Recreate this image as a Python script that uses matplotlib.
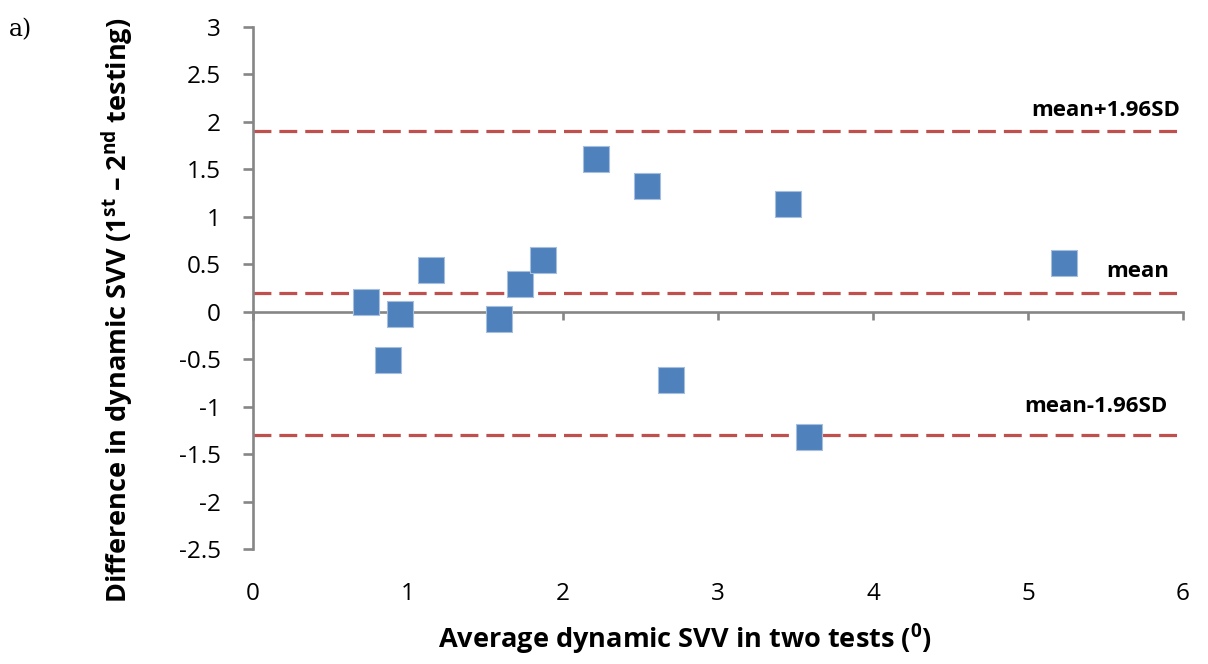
import matplotlib
matplotlib.use("Agg")
import matplotlib.pyplot as plt

# Bland-Altman data: mean of the two tests vs. difference (1st - 2nd)
avg_svv = [0.73, 0.87, 0.95, 1.15, 1.59, 1.72, 1.87, 2.21, 2.54, 2.70, 3.45, 3.59, 5.23]
diff_svv = [0.10, -0.51, -0.02, 0.44, -0.08, 0.29, 0.54, 1.61, 1.33, -0.72, 1.14, -1.32, 0.51]

# reference lines
line_values = [1.9, 0.2, -1.3]
line_labels = ["mean+1.96SD", "mean", "mean-1.96SD"]

x_ticks = [0, 1, 2, 3, 4, 5, 6]
y_ticks = [-2.5, -2, -1.5, -1, -0.5, 0, 0.5, 1, 1.5, 2, 2.5, 3]

plt.rcParams["font.family"] = ["Open Sans", "DejaVu Sans"]
plt.rcParams["mathtext.fontset"] = "custom"
plt.rcParams["mathtext.rm"] = "Open Sans:bold"
plt.rcParams["mathtext.bf"] = "Open Sans:bold"
plt.rcParams["mathtext.it"] = "Open Sans:bold"

axis_grey = "#868686"
blue = "#4F81BD"
red = "#C0504D"

fig = plt.figure(figsize=(12.08, 6.64), dpi=100)
ax = fig.add_axes([0.2094, 0.1732, 0.7699, 0.7861])

for v in line_values:
    ax.axhline(v, color=red, lw=2.3, ls=(0, (5.6, 2.5)), zorder=1)

ax.scatter(avg_svv, diff_svv, marker="s", s=330, color=blue,
           edgecolor="#A7BFDE", linewidth=0.8, zorder=3)

label_y_off = [0.22, 0.22, 0.30]
label_x = [5.98, 5.91, 5.90]
for v, txt, dy, lx in zip(line_values, line_labels, label_y_off, label_x):
    ax.text(lx, v + dy, txt, ha="right", va="center", fontsize=16,
            fontweight="bold")

ax.set_xlim(0, 6)
ax.set_ylim(-2.5, 3)

for side in ["top", "right"]:
    ax.spines[side].set_visible(False)
ax.spines["left"].set_color(axis_grey)
ax.spines["left"].set_linewidth(1.9)
ax.spines["bottom"].set_position(("data", 0))
ax.spines["bottom"].set_color(axis_grey)
ax.spines["bottom"].set_linewidth(1.9)

ax.set_yticks(y_ticks)
ax.set_yticklabels([f"{t:g}" for t in y_ticks])
ax.tick_params(axis="y", direction="out", length=7, width=1.9, color=axis_grey,
               labelsize=17.5, pad=16)
ax.set_xticks(x_ticks)
ax.tick_params(axis="x", direction="out", length=6, width=1.9, color=axis_grey,
               labelbottom=False)

# tick labels for x sit under the plot, not along the zero line
sec = ax.secondary_xaxis("bottom")
sec.set_xticks(x_ticks)
sec.set_xticklabels([str(t) for t in x_ticks])
sec.spines["bottom"].set_visible(False)
sec.tick_params(length=0, labelsize=17.5, pad=24)

ax.set_xlabel("Average dynamic SVV in two tests ($^{0}$)", fontsize=19.5,
              fontweight="bold", va="center")
ax.xaxis.set_label_coords(0.4645, -0.174)

ax.set_ylabel("Difference in dynamic SVV (1$^{st}$ \u2013 2$^{nd}$ testing)",
              fontsize=19.5, fontweight="bold", va="center")
ax.yaxis.set_label_coords(-0.1455, 0.458)

fig.text(0.007, 0.945, "a)", fontsize=17, family=["DejaVu Serif"])

fig.savefig("out.png", dpi=100)
